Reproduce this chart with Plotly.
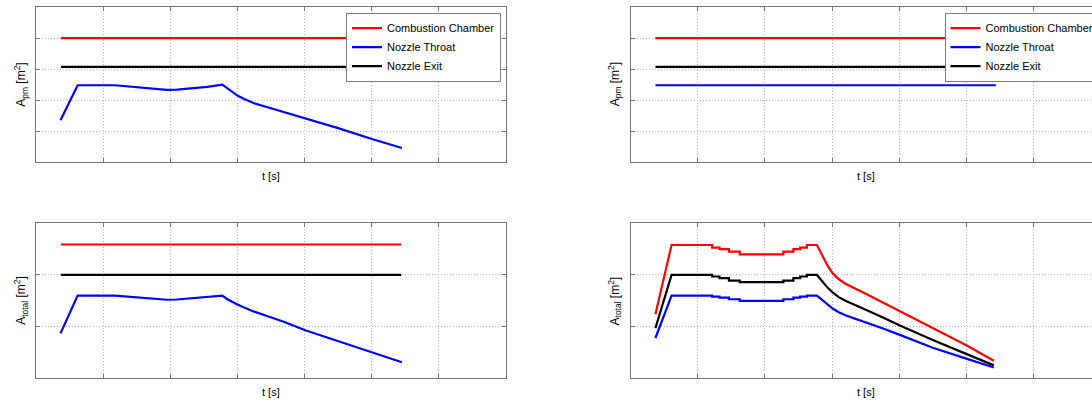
import plotly.graph_objects as go

W, H = 1092, 400

# ---------------- data (arbitrary units) ----------------
series_names = ["Combustion Chamber", "Nozzle Throat", "Nozzle Exit"]
series_colors = ["#ff0000", "#0000ff", "#000000"]

# constant-area lines
t_const = [0.37, 5.44]

# top-left: A_pm
pm_left_chamber = [4.0, 4.0]
pm_left_exit = [3.075, 3.075]
t_throat = [0.365, 0.62, 1.175, 1.4, 1.6, 1.8, 1.95, 2.1, 2.3, 2.55, 2.775,
            2.85, 2.92, 3.0, 3.1, 3.25, 3.45, 3.7, 4.01, 4.5, 5.015, 5.45]
pm_left_throat = [1.355, 2.48, 2.48, 2.44, 2.39, 2.35, 2.33, 2.34, 2.37, 2.43, 2.50,
                  2.38, 2.26, 2.15, 2.04, 1.90, 1.77, 1.61, 1.41, 1.10, 0.74, 0.46]

# top-right: A_pm
pm_right_chamber = [4.0, 4.0]
pm_right_throat = [2.48, 2.48]
pm_right_exit = [3.07, 3.07]

# bottom-left: A_total
total_left_chamber = [2.59, 2.59]
total_left_exit = [2.0, 2.0]
total_left_throat = [0.87, 1.60, 1.60, 1.575, 1.55, 1.53, 1.52, 1.525, 1.545, 1.57, 1.60,
                     1.53, 1.48, 1.43, 1.37, 1.29, 1.20, 1.09, 0.93, 0.72, 0.51, 0.31]

# bottom-right: A_total (stepped)
t_total_right = [0.37, 0.61,
                 1.215, 1.215, 1.325, 1.325, 1.465, 1.465, 1.625, 1.625,
                 2.275, 2.275, 2.425, 2.425, 2.525, 2.525, 2.625, 2.625, 2.775,
                 2.82, 2.87, 2.93, 3.01, 3.1, 3.2, 3.33, 3.51, 3.75, 4.01, 4.5, 5.0, 5.41]
total_right_chamber = [1.24, 2.58,
                       2.58, 2.53, 2.53, 2.50, 2.50, 2.45, 2.45, 2.40,
                       2.40, 2.45, 2.45, 2.50, 2.50, 2.53, 2.53, 2.58, 2.58,
                       2.47, 2.34, 2.19, 2.03, 1.92, 1.83, 1.74, 1.63, 1.47, 1.30, 0.97, 0.64, 0.34]
total_right_exit = [0.97, 2.00,
                    2.00, 1.97, 1.97, 1.94, 1.94, 1.89, 1.89, 1.86,
                    1.86, 1.89, 1.89, 1.94, 1.94, 1.97, 1.97, 2.00, 2.00,
                    1.93, 1.85, 1.76, 1.66, 1.57, 1.50, 1.42, 1.32, 1.18, 1.02, 0.74, 0.47, 0.25]
total_right_throat = [0.78, 1.60,
                      1.60, 1.58, 1.58, 1.56, 1.56, 1.53, 1.53, 1.50,
                      1.50, 1.53, 1.53, 1.56, 1.56, 1.58, 1.58, 1.60, 1.60,
                      1.55, 1.49, 1.42, 1.35, 1.28, 1.22, 1.16, 1.08, 0.97, 0.84, 0.59, 0.38, 0.21]

x_max = 7
top_y_max = 5
bottom_y_max = 3

# ---------------- layout geometry (pixels) ----------------
LX0, LX1 = 36, 506
RX0 = 630.6
px_per_unit = (LX1 - LX0) / x_max
TY0, TY1 = 7, 162.3
BY0, BY1 = 223.3, 378.3

FONT = "Liberation Sans, Arial, sans-serif"
AXC = "#777777"
GRIDC = "#b8b8b8"
LW = 2.2

fig = go.Figure()

def add(x, y, name, color, xa, ya, legend=None):
    fig.add_trace(go.Scatter(
        x=x, y=y, mode="lines", name=name,
        line=dict(color=color, width=LW),
        xaxis=xa, yaxis=ya,
        showlegend=legend is not None,
        legend=legend if legend else "legend",
        hoverinfo="skip",
    ))

# top-left
add(t_const, pm_left_chamber, series_names[0], series_colors[0], "x", "y", "legend")
add(t_throat, pm_left_throat, series_names[1], series_colors[1], "x", "y", "legend")
add(t_const, pm_left_exit, series_names[2], series_colors[2], "x", "y", "legend")
# top-right
add(t_const, pm_right_chamber, series_names[0], series_colors[0], "x2", "y2", "legend2")
add(t_const, pm_right_throat, series_names[1], series_colors[1], "x2", "y2", "legend2")
add(t_const, pm_right_exit, series_names[2], series_colors[2], "x2", "y2", "legend2")
# bottom-left
add(t_const, total_left_chamber, series_names[0], series_colors[0], "x3", "y3")
add(t_throat, total_left_throat, series_names[1], series_colors[1], "x3", "y3")
add(t_const, total_left_exit, series_names[2], series_colors[2], "x3", "y3")
# bottom-right
add(t_total_right, total_right_chamber, series_names[0], series_colors[0], "x4", "y4")
add(t_total_right, total_right_exit, series_names[2], series_colors[2], "x4", "y4")
add(t_total_right, total_right_throat, series_names[1], series_colors[1], "x4", "y4")


def axis(domain, rng, anchor, mirror):
    return dict(domain=domain, range=rng, anchor=anchor, dtick=1, tick0=0,
                showticklabels=False, ticks="inside", ticklen=4, tickcolor=AXC,
                showline=True, linecolor=AXC, linewidth=1, mirror=mirror,
                showgrid=True, gridcolor=GRIDC, griddash="1px,2px", gridwidth=1,
                zeroline=False, fixedrange=True)

ldom = [LX0 / W, LX1 / W]
rdom = [RX0 / W, 1.0]
rrange = [0, (W - RX0) / px_per_unit]
tdom = [1 - TY1 / H, 1 - TY0 / H]
bdom = [1 - BY1 / H, 1 - BY0 / H]

annotations = []
def label(text, xpx, ypx, angle=0, size=11):
    annotations.append(dict(text=text, x=xpx / W, y=1 - ypx / H, xref="paper", yref="paper",
                            showarrow=False, textangle=angle, xanchor="center", yanchor="middle",
                            font=dict(family=FONT, size=size, color="#000000")))

lc = (LX0 + LX1) / 2
rc = RX0 + (LX1 - LX0) / 2
label("t [s]", lc, 175.5)
label("t [s]", rc, 175.5)
label("t [s]", lc, 391.5)
label("t [s]", rc, 391.5)
label("A<sub>pm</sub> [m<sup>2</sup>]", 21, (TY0 + TY1) / 2, -90, 12)
label("A<sub>pm</sub> [m<sup>2</sup>]", RX0 - 16, (TY0 + TY1) / 2, -90, 12)
label("A<sub>total</sub> [m<sup>2</sup>]", 21, (BY0 + BY1) / 2, -90, 12)
label("A<sub>total</sub> [m<sup>2</sup>]", RX0 - 16, (BY0 + BY1) / 2, -90, 12)

legend_style = dict(bgcolor="#ffffff", bordercolor="#808080", borderwidth=1,
                    font=dict(family=FONT, size=11, color="#000000"),
                    xref="paper", yref="paper", yanchor="top", tracegroupgap=0,
                    itemclick=False, itemdoubleclick=False)

fig.update_layout(
    width=W, height=H,
    margin=dict(l=0, r=0, t=0, b=0, pad=0, autoexpand=False),
    paper_bgcolor="#ffffff", plot_bgcolor="#ffffff",
    font=dict(family=FONT, size=11, color="#000000"),
    xaxis=axis(ldom, [0, x_max], "y", "ticks"),
    yaxis=axis(tdom, [0, top_y_max], "x", "ticks"),
    xaxis2=axis(rdom, rrange, "y2", "ticks"),
    yaxis2=axis(tdom, [0, top_y_max], "x2", False),
    xaxis3=axis(ldom, [0, x_max], "y3", "ticks"),
    yaxis3=axis(bdom, [0, bottom_y_max], "x3", "ticks"),
    xaxis4=axis(rdom, rrange, "y4", "ticks"),
    yaxis4=axis(bdom, [0, bottom_y_max], "x4", False),
    legend=dict(legend_style, x=501 / W, xanchor="right", y=1 - 12.7 / H),
    legend2=dict(legend_style, x=944.5 / W, xanchor="left", y=1 - 12.7 / H),
    annotations=annotations,
    showlegend=True,
)

fig.write_html("out.html", config={"displayModeBar": False, "staticPlot": True})
